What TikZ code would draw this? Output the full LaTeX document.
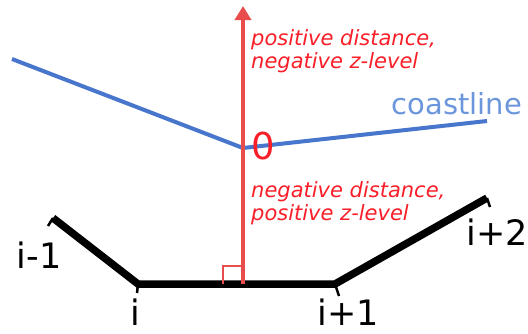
\documentclass[tikz,border=0pt]{standalone}
\usepackage{fontspec}
\setmainfont{DejaVu Sans}
\usepackage{tikz}
\usetikzlibrary{arrows.meta, calc}
\definecolor{CoastBlue}{RGB}{72,118,204}
\definecolor{LabelBlue}{RGB}{108,150,220}
\definecolor{AxisRed}{RGB}{232,76,76}
\definecolor{TextRed}{RGB}{250,30,40}
\tikzset{
	seg/.style={line width=7.5pt, line join=miter},
	stub/.style={line width=2.5pt},
	idx/.style={inner sep=0pt, anchor=base, text depth=0pt, font=\fontsize{35}{35}\selectfont},
	note/.style={inner sep=0pt, align=left, anchor=west, text=TextRed,
		font=\fontsize{21}{23}\selectfont\itshape}
}

\begin{document}
\begin{tikzpicture}[x=1pt, y=-1pt]
		\useasboundingbox (0,0) rectangle (528,333);
		
		% Eckpunkte
		\coordinate (V0) at (53,218);
		\coordinate (V1) at (138,284);
		\coordinate (V2) at (335,284);
		\coordinate (V3) at (487,198);
		
		% Küstenlinie
		\coordinate (C0) at (12,59);
		\coordinate (C1) at (243,148);
		\coordinate (C2) at (487,121);
		
		% Lot und Pfeil
		\coordinate (F) at (243,284);
		\coordinate (T) at (243,6);
		
		% Polygonzug
		\draw[seg] (V0) -- (V1) -- (V2) -- (V3);
		\draw[stub] (V0) -- ++(-5,8);
		\draw[stub] (V1) -- ++(-1,9);
		\draw[stub] (V2) -- ++(4,12);
		\draw[stub] (V3) -- ++(3,9);
		
		% Küste
		\draw[CoastBlue, line width=4pt] (C0) -- (C1) -- (C2);
		
		% Abstand
		\draw[AxisRed, line width=4.5pt, -{Triangle[width=16pt, length=14pt]}] (F) -- (T);
		\draw[AxisRed, line width=2.5pt] ($(F)+(-20,0)$) -- ++(0,-18) -- ++(20,0);
		
		% Beschriftung
		\node[idx] (L0) at (39,268) {i-1};
		\node[idx] (L1) at (135,325) {i};
		\node[idx] (L2) at (348,325) {i+1};
		\node[idx] (L3) at (497,245) {i+2};
		\node[inner sep=0pt, text=TextRed, font=\fontsize{37}{37}\selectfont] (Z) at (263,146) {0};
		\node[inner sep=0pt, text=LabelBlue, font=\fontsize{29}{29}\selectfont] (K) at (457,104) {coastline};
		\node[note] (P) at (251,51) {positive distance,\\negative z-level};
		\node[note] (N) at (251,203) {negative distance,\\positive z-level};
	\end{tikzpicture}
\end{document}
